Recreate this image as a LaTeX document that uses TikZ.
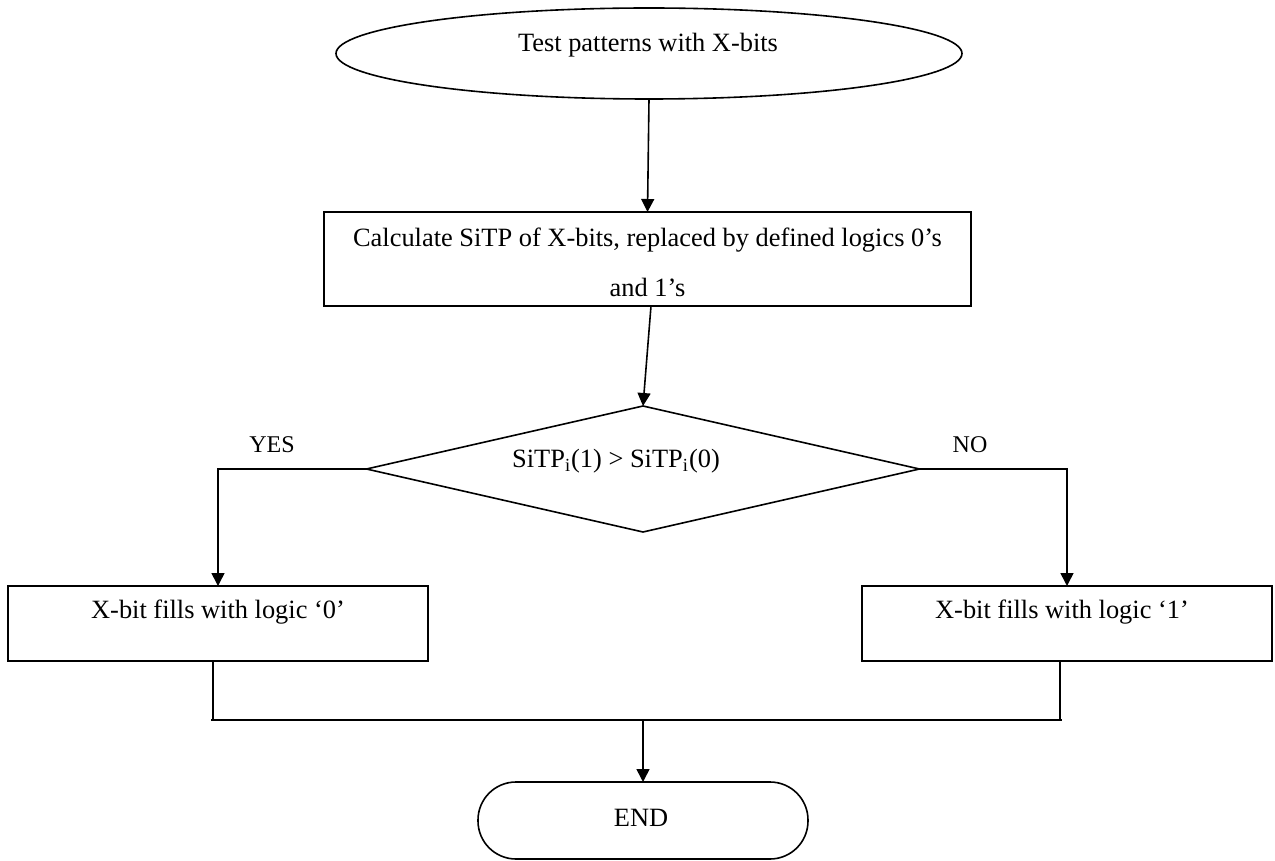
\documentclass[tikz,border=0pt]{standalone}
\usepackage{fontspec}
\setmainfont{Liberation Serif}
\usetikzlibrary{shapes.geometric,arrows.meta}
\begin{document}
\begin{tikzpicture}[x=0.5pt,y=-0.5pt,
  line width=0.8pt,
  font=\fontsize{13.2pt}{15pt}\selectfont,
  shapebox/.style={draw,inner sep=0pt,outer sep=0pt},
  txt/.style={inner sep=0pt,anchor=center},
  lbl/.style={inner sep=0pt,anchor=center,font=\fontsize{12pt}{14pt}\selectfont},
  arr/.style={-{Triangle[length=6.5pt,width=6.5pt]}}]
\useasboundingbox (0,0) rectangle (1275,861);
% start ellipse
\node[shapebox,ellipse,minimum width=313pt,minimum height=45.5pt] (start) at (649,53.5) {};
\node[txt] (starttxt) at (648,45) {Test patterns with X-bits};
% calculate box
\node[shapebox,rectangle,minimum width=323.5pt,minimum height=47pt] (calc) at (647.5,259) {};
\node[txt] (calctxt1) at (647.5,240) {Calculate SiTP of X-bits, replaced by defined logics 0’s};
\node[txt] (calctxt2) at (647.5,287) {and 1’s};
% decision
\node[shapebox,diamond,minimum width=276.5pt,minimum height=63pt] (dec) at (643,469) {};
\node[txt] (dectxt) at (616,461) {SiTP\textsubscript{i}(1) > SiTP\textsubscript{i}(0)};
\node[lbl] (yes) at (272,445) {YES};
\node[lbl] (no) at (970,445) {NO};
% branch boxes
\node[shapebox,rectangle,minimum width=210pt,minimum height=37.5pt] (fill0) at (218,623.5) {};
\node[txt] (fill0txt) at (218,612) {X-bit fills with logic ‘0’};
\node[shapebox,rectangle,minimum width=205pt,minimum height=37.5pt] (fill1) at (1067,623.5) {};
\node[txt] (fill1txt) at (1062,612) {X-bit fills with logic ‘1’};
% end terminal
\node[shapebox,rectangle,rounded corners=19pt,minimum width=165pt,minimum height=38.5pt] (stop) at (643,820.5) {};
\node[txt] (stoptxt) at (641,818) {END};
% junction coordinates
\coordinate (jl) at (213,720);
\coordinate (jr) at (1060,720);
\coordinate (jm) at (643,720);
% connectors
\draw[arr] (start.south) -- (calc.north);
\draw[arr] ([xshift=1.75pt]calc.south) -- (dec.north);
\draw[arr] (dec.west) -| (fill0.north);
\draw[arr] (dec.east) -| (fill1.north);
\draw (fill0.south -| jl) -- (jl);
\draw (fill1.south -| jr) -- (jr);
\draw ([xshift=-1pt]jl) -- ([xshift=1pt]jr);
\draw[arr] (jm) -- (stop.north);
\end{tikzpicture}
\end{document}
